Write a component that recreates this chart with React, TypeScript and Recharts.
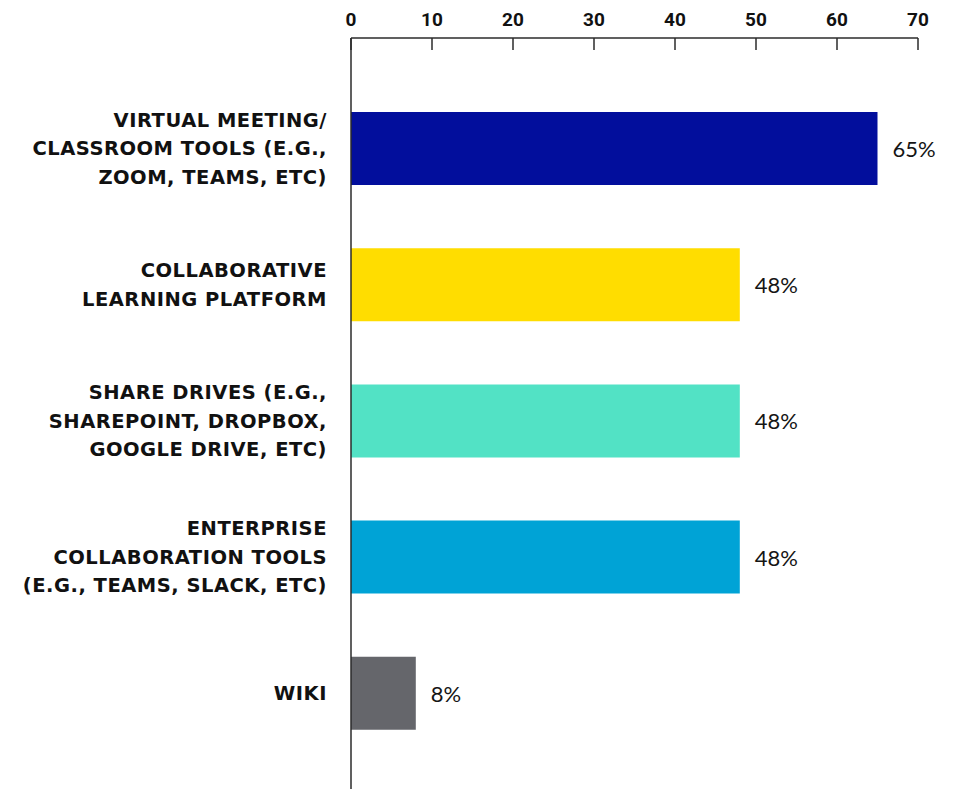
import { BarChart, Bar, XAxis, YAxis, LabelList, Cell } from 'recharts'

const categories = [
  'VIRTUAL MEETING/\nCLASSROOM TOOLS (E.G.,\nZOOM, TEAMS, ETC)',
  'COLLABORATIVE\nLEARNING PLATFORM',
  'SHARE DRIVES (E.G.,\nSHAREPOINT, DROPBOX,\nGOOGLE DRIVE, ETC)',
  'ENTERPRISE\nCOLLABORATION TOOLS\n(E.G., TEAMS, SLACK, ETC)',
  'WIKI',
]
const shares = [65, 48, 48, 48, 8]
const barColors = ['#020E9C', '#FFDD00', '#52E2C5', '#00A3D6', '#65666B']
const xTicks = [0, 10, 20, 30, 40, 50, 60, 70]

const data = categories.map((name, i) => ({ name, value: shares[i] }))

const AXIS_COLOR = '#2b2b2b'

function TopTick(props: any) {
  const { x, y, payload } = props
  return (
    <g>
      <line x1={x} y1={y} x2={x} y2={y + 12} stroke={AXIS_COLOR} strokeWidth={1.5} />
      <text
        x={x}
        y={y - 12}
        textAnchor="middle"
        fill="#111"
        fontSize={19}
        fontWeight={700}
        fontFamily="Roboto, sans-serif"
      >
        {payload.value}
      </text>
    </g>
  )
}

function CategoryTick(props: any) {
  const { x, y, payload } = props
  const lines = String(payload.value).split('\n')
  const lineHeight = 28.5
  const startY = y - ((lines.length - 1) * lineHeight) / 2
  const right = x - 16
  return (
    <text
      x={right}
      y={startY}
      textAnchor="end"
      fill="#111"
      fontSize={19.5}
      fontWeight={700}
      letterSpacing={0.5}
      fontFamily="'DejaVu Sans', sans-serif"
      dominantBaseline="central"
    >
      {lines.map((line, i) => (
        <tspan key={i} x={right} y={startY + i * lineHeight}>
          {line}
        </tspan>
      ))}
    </text>
  )
}

function ValueLabel(props: any) {
  const { x, y, width, height, value } = props
  return (
    <text
      x={x + width + 15}
      y={y + height / 2}
      fill="#151515"
      fontSize={22}
      fontWeight={400}
      fontFamily="Lato, sans-serif"
      dominantBaseline="central"
    >
      {value}%
    </text>
  )
}

export default function App() {
  return (
    <div style={{ position: 'absolute', left: 0, top: 0, background: '#fff' }}>
      <BarChart
        width={955}
        height={789}
        data={data}
        layout="vertical"
        margin={{ top: 0, right: 37, bottom: 0, left: 0 }}
        barCategoryGap={0}
      >
        <XAxis
          type="number"
          orientation="top"
          domain={[0, 70]}
          ticks={xTicks}
          height={38}
          tickSize={0}
          tickMargin={0}
          tickLine={false}
          axisLine={{ stroke: AXIS_COLOR, strokeWidth: 1.5 }}
          tick={<TopTick />}
          interval={0}
        />
        <YAxis
          type="category"
          dataKey="name"
          width={351}
          tickLine={false}
          axisLine={{ stroke: AXIS_COLOR, strokeWidth: 1.5 }}
          tick={<CategoryTick />}
          padding={{ top: 42, bottom: 28 }}
          interval={0}
        />
        <Bar dataKey="value" barSize={73} isAnimationActive={false}>
          {data.map((_, i) => (
            <Cell key={i} fill={barColors[i]} />
          ))}
          <LabelList dataKey="value" content={<ValueLabel />} />
        </Bar>
      </BarChart>
    </div>
  )
}
